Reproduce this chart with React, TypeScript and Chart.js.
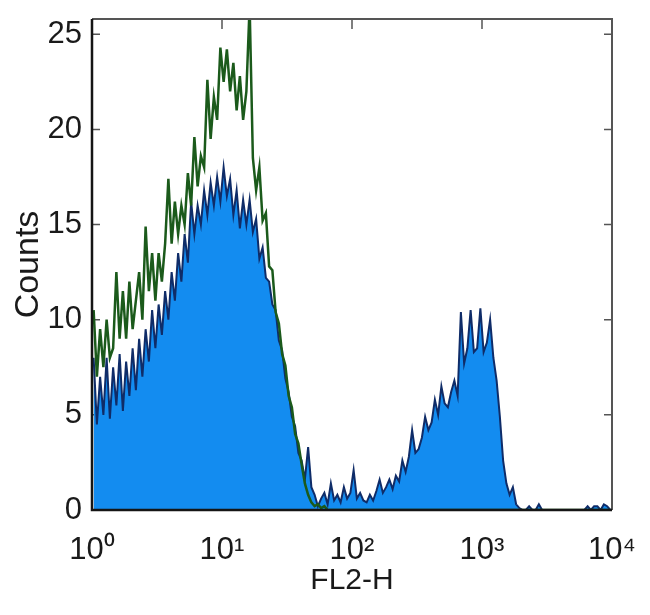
import React, { useEffect, useRef } from "react";
import { Chart, registerables } from "chart.js";

Chart.register(...registerables);

const binsPerDecade = 40;
const xTickValues = [1, 10, 100, 1000, 10000];
const xTickExponents = ["⁰", "¹", "²", "³", "⁴"];
const yTickValues = [0, 5, 10, 15, 20, 25];
const xAxisLabel = "FL2-H";
const yAxisLabel = "Counts";

// FL2-H histogram, stained sample (filled blue)
const blueCounts = [
  8, 4.5, 7, 5, 8, 4.8, 7.5, 5.5, 8.2, 5.2,
  7.8, 6, 8.5, 6.3, 9, 7, 9.5, 7.8, 10.5, 8.5,
  10.8, 9.2, 11.5, 10, 12.5, 11, 13.5, 12, 14.5, 13,
  16.2, 14.5, 16, 15, 16.8, 15.5, 17.2, 16, 17.5, 16.2,
  18, 16.5, 17.4, 15.5, 16.8, 14.8, 16.3, 15, 16.3, 14.6,
  15.3, 13.2, 13.8, 12.2, 12.0, 10.8, 10.5, 8.9, 8.4, 6.9,
  6.2, 4.9, 4.4, 3.0, 2.6, 1.6, 3.3, 1.2, 0.8, 0.2,
  0.6, 0.9, 0.3, 1.4, 0.5, 0.8, 0.4, 1.2, 0.6, 0.9,
  2.1, 0.6, 0.9, 0.5, 0.4, 0.8, 0.5, 1.0, 1.6, 0.9,
  1.2, 1.6, 1.1, 1.8, 1.5, 2.6, 2.0, 2.8, 4.2, 3.0,
  3.2, 3.8, 4.9, 4.2, 4.6, 5.8, 5.0, 6.5, 5.6, 5.4,
  6.2, 6.8, 6.0, 10.4, 7.7, 8.5, 10.5, 8.3, 8.5, 10.6,
  8.3, 8.8, 10.0, 8.0, 6.8, 4.9, 2.6, 1.4, 0.8, 1.2,
  0.3, 0.1, 0, 0, 0.2, 0, 0, 0.3, 0, 0,
  0, 0, 0, 0, 0, 0, 0, 0, 0, 0,
  0, 0, 0.2, 0, 0.2, 0.2, 0, 0.3, 0.2, 0,
];

// FL2-H histogram, control (green outline)
const greenCounts = [
  10.5, 7, 9.5, 7.5, 10, 8, 8.5, 12.5, 9, 11.5,
  9, 12, 9.5, 11, 12.5, 10, 14.9, 11.5, 13.5, 11,
  13.5, 12, 14, 17.4, 14, 16.2, 14.5, 16, 15, 17.7,
  16, 19.6, 17, 18.6, 18, 22.6, 19.5, 21.7, 20.5, 24.3,
  22.5, 24.2, 22, 23.5, 21, 22.8, 20.5, 22, 26.5, 18.5,
  16.8, 18.0, 15.2, 15.6, 12.8, 12.6, 10.4, 9.8, 8.2, 7.6,
  6.0, 5.4, 4.0, 3.5, 2.4, 1.4, 0.8, 0.4, 0.2, 0.3,
  0.1, 0.2, 0, 0, 0, 0, 0, 0, 0, 0,
  0, 0, 0, 0, 0, 0, 0, 0, 0, 0,
  0, 0, 0, 0, 0, 0, 0, 0, 0, 0,
  0, 0, 0, 0, 0, 0, 0, 0, 0, 0,
  0, 0, 0, 0, 0, 0, 0, 0, 0, 0,
  0, 0, 0, 0, 0, 0, 0, 0, 0, 0,
  0, 0, 0, 0, 0, 0, 0, 0, 0, 0,
  0, 0, 0, 0, 0, 0, 0, 0, 0, 0,
  0, 0, 0, 0, 0, 0, 0, 0, 0, 0,
];

const toPoints = (counts: number[]) =>
  counts.map((y, i) => ({ x: Math.pow(10, (i + 0.5) / binsPerDecade), y }));

const FONT = "'Liberation Sans', Arial, sans-serif";

const frameTicksPlugin = {
  id: "frameTicks",
  beforeDatasetsDraw(chart: any) {
    const { ctx, chartArea: a, scales } = chart;
    const len = 8;
    ctx.save();
    ctx.strokeStyle = "#555";
    ctx.lineWidth = 1.5;
    ctx.beginPath();
    for (const v of yTickValues) {
      const y = scales.y.getPixelForValue(v);
      ctx.moveTo(a.left, y);
      ctx.lineTo(a.left + len, y);
      ctx.moveTo(a.right, y);
      ctx.lineTo(a.right - len, y);
    }
    for (const v of xTickValues) {
      const x = scales.x.getPixelForValue(v);
      ctx.moveTo(x, a.top);
      ctx.lineTo(x, a.top + len + 2);
      ctx.moveTo(x, a.bottom);
      ctx.lineTo(x, a.bottom - len - 2);
    }
    ctx.stroke();
    ctx.restore();
  },
  afterDatasetsDraw(chart: any) {
    const { ctx, chartArea: a } = chart;
    ctx.save();
    ctx.lineWidth = 2;
    ctx.strokeStyle = "#555";
    ctx.beginPath();
    ctx.moveTo(a.left, a.top);
    ctx.lineTo(a.right, a.top);
    ctx.lineTo(a.right, a.bottom);
    ctx.stroke();
    ctx.lineWidth = 2.5;
    ctx.strokeStyle = "#151515";
    ctx.beginPath();
    ctx.moveTo(a.left, a.top);
    ctx.lineTo(a.left, a.bottom);
    ctx.lineTo(a.right, a.bottom);
    ctx.stroke();
    ctx.restore();
  },
};

export default function App() {
  const canvasRef = useRef<HTMLCanvasElement | null>(null);

  useEffect(() => {
    if (!canvasRef.current) return;
    const chart = new Chart(canvasRef.current, {
      type: "line",
      data: {
        datasets: [
          {
            label: "Control",
            data: toPoints(greenCounts),
            borderColor: "#1b5a1b",
            borderWidth: 2.5,
            fill: false,
            pointRadius: 0,
            tension: 0,
          },
          {
            label: "Stained",
            data: toPoints(blueCounts),
            borderColor: "#0f2c68",
            backgroundColor: "#138cf0",
            borderWidth: 2,
            fill: "origin",
            pointRadius: 0,
            tension: 0,
          },
        ],
      },
      options: {
        animation: false,
        responsive: true,
        maintainAspectRatio: false,
        layout: { padding: { top: 11, right: 30, left: 0, bottom: 0 } },
        plugins: { legend: { display: false }, tooltip: { enabled: false } },
        scales: {
          x: {
            type: "logarithmic",
            min: 1,
            max: 10000,
            grid: { display: false, drawTicks: false },
            border: { display: false },
            afterBuildTicks: (scale: any) => {
              scale.ticks = xTickValues.map((value) => ({ value }));
            },
            afterFit: (scale: any) => {
              scale.height = 97;
              scale.paddingLeft = 0;
              scale.paddingRight = 0;
            },
            ticks: {
              autoSkip: false,
              maxRotation: 0,
              padding: 22,
              color: "#1a1a1a",
              font: { family: FONT, size: 31 },
              callback: (v: any) =>
                "10" + xTickExponents[Math.round(Math.log10(Number(v)))],
            },
            title: {
              display: true,
              text: xAxisLabel,
              color: "#1a1a1a",
              font: { family: FONT, size: 30 },
              padding: { top: 0, bottom: 8 },
            },
          },
          y: {
            type: "linear",
            min: 0,
            max: 25.8,
            grid: { display: false, drawTicks: false },
            border: { display: false },
            afterBuildTicks: (scale: any) => {
              scale.ticks = yTickValues.map((value) => ({ value }));
            },
            afterFit: (scale: any) => {
              scale.width = 84;
              scale.paddingTop = 0;
              scale.paddingBottom = 0;
            },
            ticks: {
              padding: 10,
              color: "#1a1a1a",
              font: { family: FONT, size: 31 },
            },
            title: {
              display: true,
              text: yAxisLabel,
              color: "#1a1a1a",
              font: { family: FONT, size: 34 },
              padding: { top: 0, bottom: 0 },
            },
          },
        },
      },
      plugins: [frameTicksPlugin],
    });
    return () => chart.destroy();
  }, []);

  return (
    <div style={{ width: 634, height: 599, position: "relative" }}>
      <canvas ref={canvasRef} />
    </div>
  );
}
